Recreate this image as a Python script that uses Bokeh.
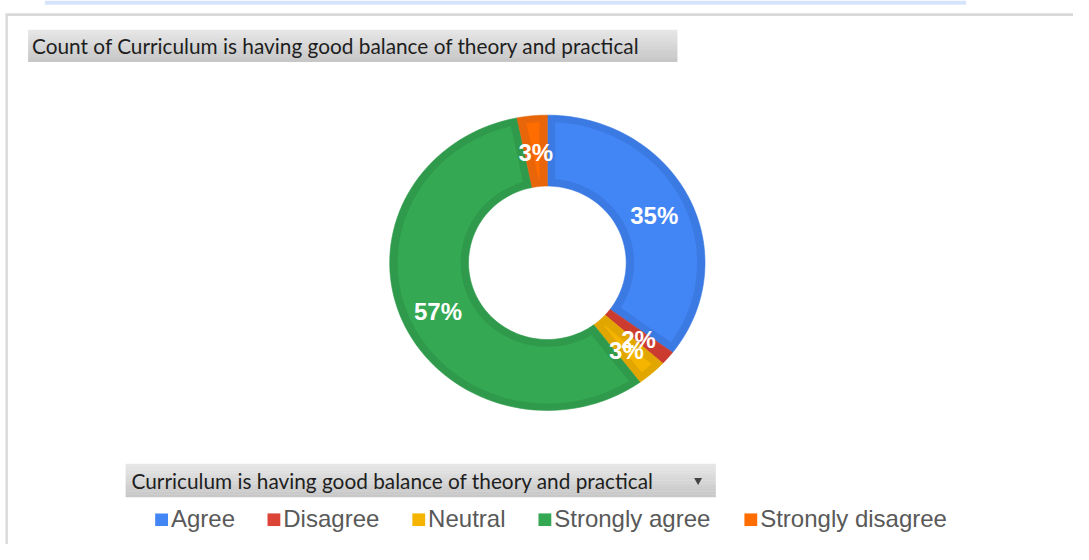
import math
from bokeh.plotting import figure
from bokeh.models import Range1d
from bokeh.core.properties import value
from bokeh.embed import file_html
from bokeh.resources import INLINE

# ---------------- data ----------------
categories = ["Agree", "Disagree", "Neutral", "Strongly agree", "Strongly disagree"]
counts = [23, 1, 2, 37, 2]
colors = ["#4285f4", "#db4437", "#f4b400", "#34a853", "#ff6d01"]
border_colors = ["#3b7ae2", "#cc3b2f", "#e2a600", "#2f9a4b", "#e8650a"]
title_text = "Count of Curriculum is having good balance of theory and practical"
filter_text = "Curriculum is having good balance of theory and practical"

# ---------------- layout (data units = reference pixels, y downwards negated) ----------------
W, H = 1073, 544
REF_W, REF_H = 1089, 560
p = figure(width=W, height=H, x_range=Range1d(0, REF_W), y_range=Range1d(-REF_H, 0),
           output_backend="svg", toolbar_location=None, min_border=0,
           x_axis_type=None, y_axis_type=None)
p.grid.visible = False
p.outline_line_color = None
p.background_fill_color = "white"
p.border_fill_color = "white"

# top blue bar and frame lines
p.quad(left=[45], right=[980], top=[0], bottom=[-4.5], fill_color="#d6e4fb", line_color=None)
p.quad(left=[5], right=[REF_W], top=[-13], bottom=[-16], fill_color="#d8d8d8", line_color=None)
p.quad(left=[5], right=[7.5], top=[-14], bottom=[-REF_H], fill_color="#dadada", line_color=None)


def gradient_box(x0, x1, y0, y1, c_top=(0xe6, 0xe6, 0xe6), c_bot=(0xc7, 0xc7, 0xc7), n=12):
    h = (y1 - y0) / n
    for i in range(n):
        t = i / (n - 1)
        c = tuple(int(round(a + (bb - a) * t)) for a, bb in zip(c_top, c_bot))
        p.quad(left=[x0], right=[x1], top=[-(y0 + i * h)], bottom=[-(y0 + (i + 1) * h) - 0.4],
               fill_color="#%02x%02x%02x" % c, line_color=None)


BOX_FONT = value("Lato")

# title box
gradient_box(28, 687, 30, 63)
p.text(x=[32], y=[-46.5], text=[title_text], text_font=BOX_FONT,
       text_font_size="20.8px", text_baseline="middle", text_color="#1e1e1e")

# filter box
gradient_box(127, 726, 477, 511)
p.text(x=[133], y=[-494], text=[filter_text], text_font=BOX_FONT,
       text_font_size="20.8px", text_baseline="middle", text_color="#1e1e1e")
p.scatter(x=[708], y=[-494], marker="inverted_triangle", size=8, fill_color="#444444", line_color=None)

# ---------------- donut (drawn as patches, slightly elliptical like the reference) ----------------
cx, cy = 555, -270
r_in, r_out, bw = 80, 160, 8


def ky(r):
    return 0.9875 - (r - 80) / 80 * 0.0375


def pt(r, a):
    return cx + r * math.cos(a), cy + r * math.sin(a) * ky(r)


total = sum(counts)
cum = 0.0
starts, ends, mids = [], [], []
for c in counts:
    a_before = math.pi / 2 - 2 * math.pi * cum / total
    cum += c
    a_after = math.pi / 2 - 2 * math.pi * cum / total
    starts.append(a_after)
    ends.append(a_before)
    mids.append((a_after + a_before) / 2)


def ring_poly(a0, a1, ri, ro, n=80):
    xs, ys = [], []
    for k in range(n + 1):
        x, y = pt(ro, a1 + (a0 - a1) * k / n)
        xs.append(x); ys.append(y)
    for k in range(n + 1):
        x, y = pt(ri, a0 + (a1 - a0) * k / n)
        xs.append(x); ys.append(y)
    return xs, ys


def inset_poly(a0, a1, ri, ro, b, n=40):
    rs = [ri + b + (ro - b - ri - b) * k / (n - 1) for k in range(n)]
    rs = [r for r in rs if (a1 - a0) - 2 * math.asin(min(1.0, b / r)) > 0]
    if not rs:
        return None
    xs, ys = [], []
    for r in rs:
        x, y = pt(r, a1 - math.asin(b / r)); xs.append(x); ys.append(y)
    ro_ = rs[-1]
    aa1, aa0 = a1 - math.asin(b / ro_), a0 + math.asin(b / ro_)
    for k in range(1, n):
        x, y = pt(ro_, aa1 + (aa0 - aa1) * k / n); xs.append(x); ys.append(y)
    for r in reversed(rs):
        x, y = pt(r, a0 + math.asin(b / r)); xs.append(x); ys.append(y)
    ri_ = rs[0]
    ia0, ia1 = a0 + math.asin(b / ri_), a1 - math.asin(b / ri_)
    for k in range(1, n):
        x, y = pt(ri_, ia0 + (ia1 - ia0) * k / n); xs.append(x); ys.append(y)
    return xs, ys


oxs, oys = [], []
for a0, a1 in zip(starts, ends):
    xs, ys = ring_poly(a0, a1, r_in, r_out)
    oxs.append(xs); oys.append(ys)
p.patches(xs=oxs, ys=oys, fill_color=border_colors, line_color=border_colors, line_width=0.6)

pxs, pys, pcs = [], [], []
for a0, a1, col in zip(starts, ends, colors):
    res = inset_poly(a0, a1, r_in, r_out, bw)
    if res:
        pxs.append(res[0]); pys.append(res[1]); pcs.append(col)
p.patches(xs=pxs, ys=pys, fill_color=pcs, line_color=None)

# percent labels
lab_r = 121
lpts = [pt(lab_r, m) for m in mids]
labels = ["%d%%" % round(100 * c / total) for c in counts]
p.text(x=[q[0] for q in lpts], y=[q[1] for q in lpts], text=labels,
       text_font=value("Liberation Sans"), text_font_size="24px",
       text_font_style="bold", text_align="center", text_baseline="middle",
       text_color="white", y_offset=3)

# ---------------- legend ----------------
legend_left = [157, 271, 418, 546, 755]
p.rect(x=[x + 6.5 for x in legend_left], y=[-534.5] * len(legend_left), width=13, height=13,
       fill_color=colors, line_color=None)
p.text(x=[x + 16 for x in legend_left], y=[-533] * len(legend_left), text=categories,
       text_font=value("Liberation Sans"), text_font_size="24px", text_baseline="middle",
       text_color="#595959")

open("out.html", "w").write(file_html(p, INLINE))
